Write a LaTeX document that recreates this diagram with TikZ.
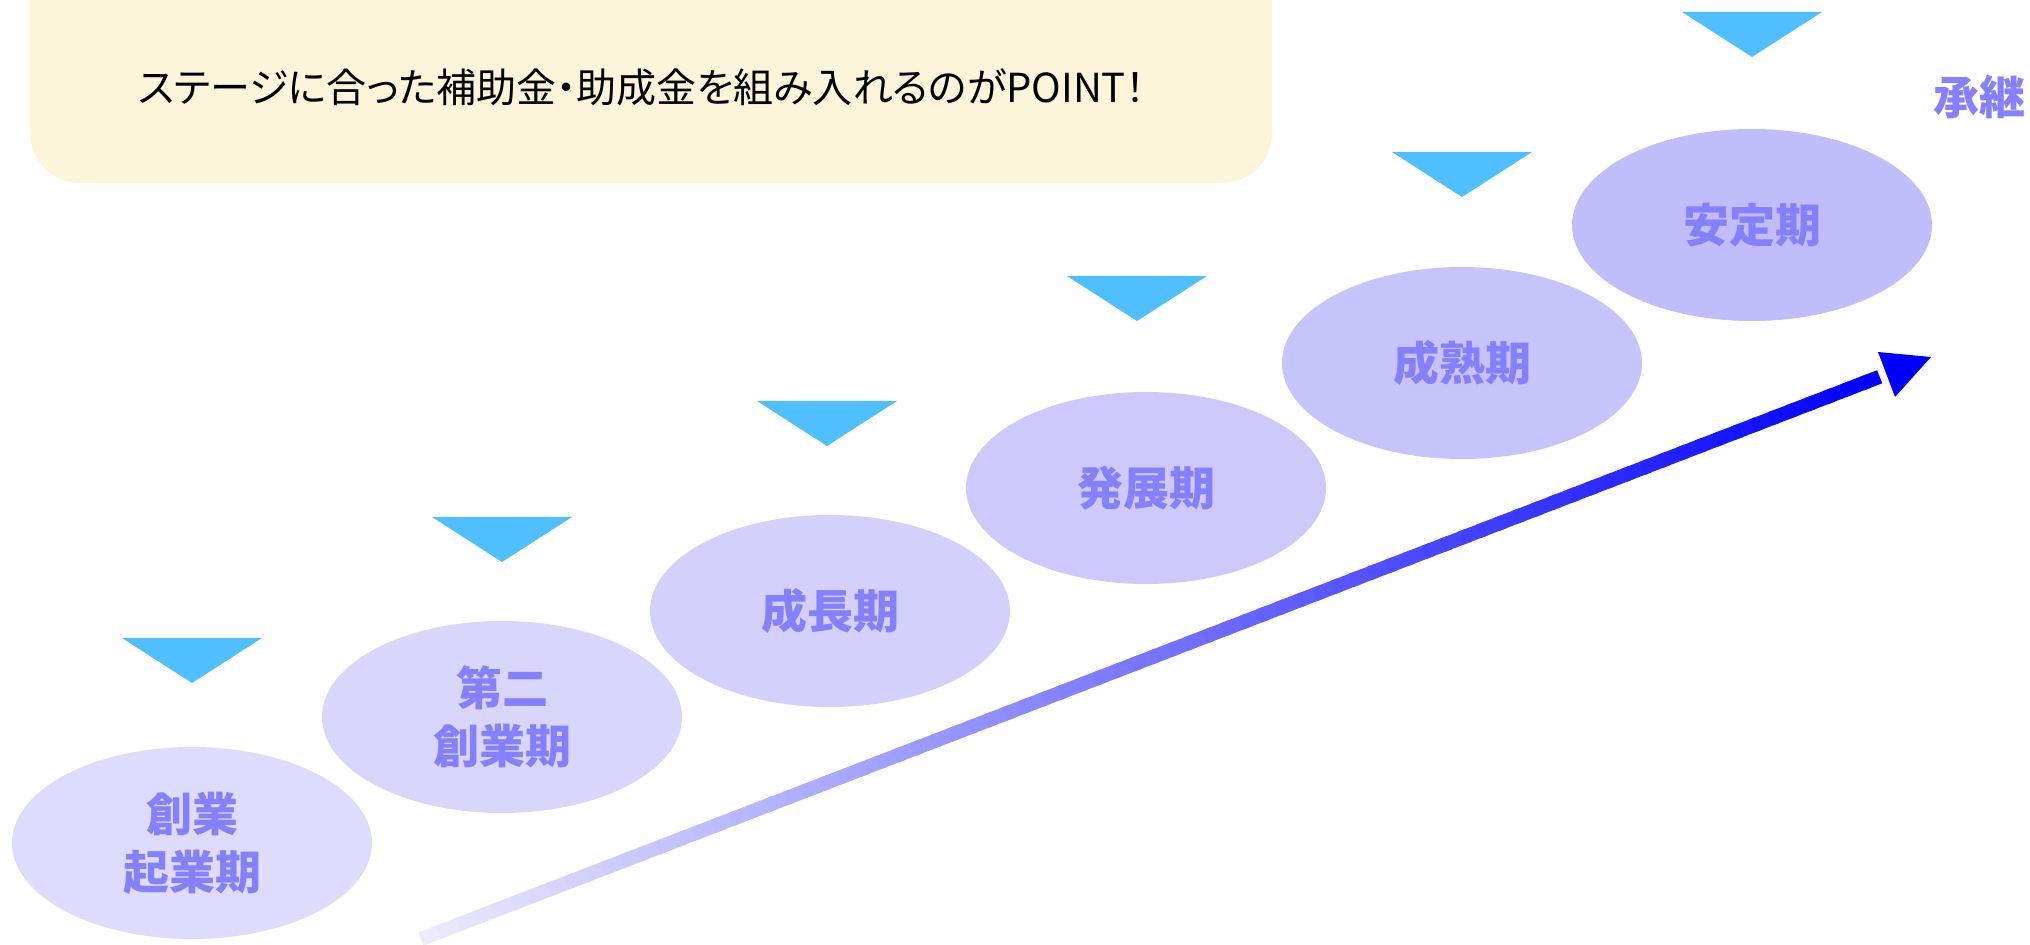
\documentclass[tikz,border=0pt]{standalone}
\usepackage{fontspec}
\setmainfont{Noto Sans CJK JP}
\newfontfamily\palfont[RawFeature=+palt]{Noto Sans CJK JP}
\usetikzlibrary{shapes.geometric,calc}
\definecolor{boxyellow}{RGB}{253,245,218}
\definecolor{tri}{RGB}{79,191,255}
\definecolor{lbl}{RGB}{132,128,255}
\definecolor{e1}{RGB}{222,220,252}
\definecolor{e2}{RGB}{217,214,252}
\definecolor{e3}{RGB}{211,208,251}
\definecolor{e4}{RGB}{205,202,251}
\definecolor{e5}{RGB}{199,195,251}
\definecolor{e6}{RGB}{193,189,251}
\definecolor{arrstart}{RGB}{236,234,252}
\definecolor{arrend}{RGB}{0,0,255}
\tikzset{
  stage/.style={ellipse, draw=none, minimum width=180pt, minimum height=96pt, inner sep=0pt,
    text=lbl, font=\fontsize{23}{29}\selectfont\bfseries, align=center},
  marker/.style={fill=tri, draw=none},
}
\begin{document}
\begin{tikzpicture}[x=0.5pt,y=-0.5pt]
\useasboundingbox (0,0) rectangle (2030,945);
\clip (0,0) rectangle (2030,945);
% yellow box
\fill[boxyellow, rounded corners=25pt] (30,-120) rectangle (1272,183);
\node[font=\palfont\fontsize{20}{24}\selectfont, text=black] (msg) at (642,87) {ステージに合った補助金・助成金を組み入れるのがPOINT！};
% triangles
\foreach \cx/\ty in {192/638, 502/517, 827/401, 1137/276, 1462/152, 1752/12}{
  \fill[marker] (\cx-70,\ty) -- (\cx+70,\ty) -- (\cx,\ty+45) -- cycle;
}
% ellipses
\node[stage, fill=e1] (s1) at (192,843) {創業\\起業期};
\node[stage, fill=e2] (s2) at (502,717) {第二\\創業期};
\node[stage, fill=e3] (s3) at (830,611) {成長期};
\node[stage, fill=e4] (s4) at (1146,488) {発展期};
\node[stage, fill=e5] (s5) at (1462,363) {成熟期};
\node[stage, fill=e6] (s6) at (1752,225) {安定期};
\node[text=lbl, font=\fontsize{23}{29}\selectfont\bfseries] (succ) at (1979,97) {承継};
% arrow
\coordinate (as) at (421,939);
\coordinate (at) at (1931,357);
\coordinate (ab) at ($(as)!0.966!(at)$);
\foreach \i in {0,...,79}{
  \pgfmathsetmacro\p{100*\i/79}
  \draw[line width=7pt, line cap=butt, draw={arrend!\p!arrstart}]
    ($(as)!\i/80!(ab)$) -- ($(as)!{min((\i+1.4)/80,1)}!(ab)$);
}
\fill[arrend] (at) -- (1878,352) -- (1895,397) -- cycle;
\end{tikzpicture}
\end{document}
